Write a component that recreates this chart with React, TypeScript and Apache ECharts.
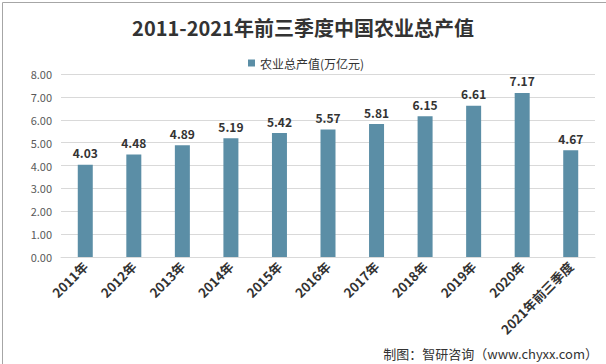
import React, { useEffect, useRef } from "react";
import * as echarts from "echarts";

const categories = ["2011年", "2012年", "2013年", "2014年", "2015年", "2016年", "2017年", "2018年", "2019年", "2020年", "2021年前三季度"];
const values = [4.03, 4.48, 4.89, 5.19, 5.42, 5.57, 5.81, 6.15, 6.61, 7.17, 4.67];
const seriesName = "农业总产值(万亿元)";
const titleText = "2011-2021年前三季度中国农业总产值";
const sourceText = "制图：智研咨询（www.chyxx.com）";

export default function App() {
  const ref = useRef<HTMLDivElement>(null);
  useEffect(() => {
    document.body.style.margin = "0";
    const chart = echarts.init(ref.current!, null, { renderer: "svg" });
    const font = "'Noto Sans CJK SC', 'Noto Sans', sans-serif";
    chart.setOption({
      animation: false,
      backgroundColor: "#ffffff",
      textStyle: { fontFamily: font },
      title: {
        text: titleText,
        left: "center",
        top: 12,
        textStyle: { fontSize: 20, fontWeight: "bold", color: "#333333", fontFamily: font },
      },
      legend: {
        data: [seriesName],
        top: 52,
        left: 243,
        itemWidth: 7,
        itemHeight: 7,
        itemGap: 4,
        icon: "rect",
        textStyle: { fontSize: 12, color: "#333333", fontFamily: font },
      },
      grid: { left: 61, right: 11, top: 74, bottom: 107 },
      xAxis: {
        type: "category",
        data: categories,
        axisLine: { show: true, lineStyle: { color: "#d9d9d9" } },
        axisTick: { show: false },
        axisLabel: {
          interval: 0,
          rotate: 45,
          fontSize: 13,
          fontWeight: "bold",
          color: "#333333",
          margin: 7,
          fontFamily: font,
        },
      },
      yAxis: {
        type: "value",
        min: 0,
        max: 8,
        interval: 1,
        axisLine: { show: false },
        axisTick: { show: false },
        splitLine: { lineStyle: { color: "#d9d9d9" } },
        axisLabel: {
          formatter: (v: number) => v.toFixed(2),
          fontSize: 11,
          color: "#595959",
          margin: 9,
          fontFamily: font,
        },
      },
      series: [
        {
          name: seriesName,
          type: "bar",
          data: values,
          barWidth: 15,
          itemStyle: { color: "#5b8ea6" },
          label: {
            show: true,
            position: "top",
            formatter: (p: any) => p.value.toFixed(2),
            fontSize: 12,
            fontWeight: "bold",
            color: "#333333",
            distance: 6,
            fontFamily: font,
          },
        },
      ],
      graphic: [
        {
          type: "rect",
          left: 0,
          top: 0,
          shape: { width: 605, height: 363 },
          style: { fill: "none", stroke: "#a6a6a6", lineWidth: 1 },
          silent: true,
        },
        {
          type: "text",
          right: 8,
          bottom: 4,
          style: { text: sourceText, fontSize: 13, fill: "#333333", fontFamily: font },
        },
      ],
    });
    return () => chart.dispose();
  }, []);
  return <div ref={ref} style={{ position: "absolute", left: 0, top: 0, width: 606, height: 364 }} />;
}
